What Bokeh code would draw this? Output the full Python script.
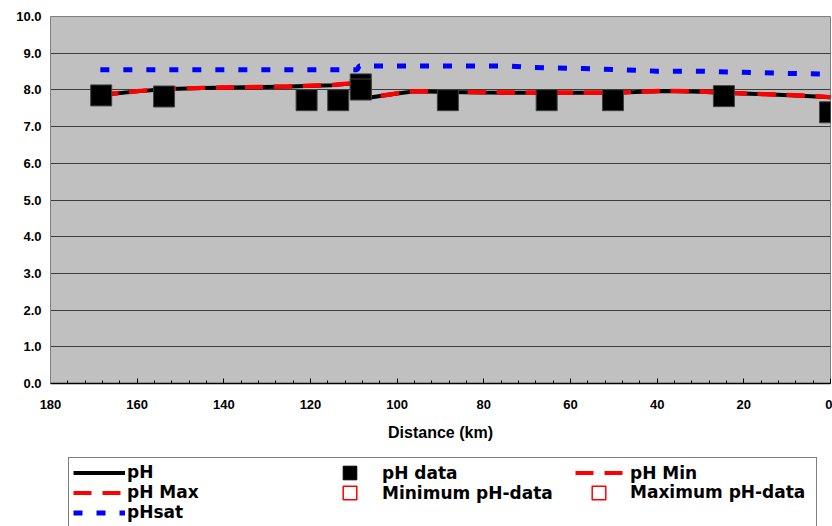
from bokeh.plotting import figure
from bokeh.layouts import column
from bokeh.models import (Legend, LegendItem, SingleIntervalTicker,
                          PrintfTickFormatter, Range1d)
from bokeh.embed import file_html
from bokeh.resources import INLINE

# ---- data ----
dist_model = [168.5, 160, 154, 145, 135, 125, 115, 109, 107, 100, 96, 88, 80,
              70, 65, 60, 50, 45, 38, 30, 25, 15, 8, 0]
ph = [7.86, 7.96, 8.02, 8.05, 8.07, 8.09, 8.13, 8.19, 7.78, 7.90, 7.96, 7.94,
      7.93, 7.92, 7.92, 7.92, 7.92, 7.94, 7.97, 7.95, 7.92, 7.88, 7.85, 7.80]
ph_max = [7.87, 7.97, 8.03, 8.06, 8.08, 8.10, 8.14, 8.20, 7.79, 7.91, 7.97, 7.95,
          7.94, 7.93, 7.93, 7.93, 7.93, 7.95, 7.98, 7.96, 7.93, 7.89, 7.86, 7.81]
ph_min = [7.86, 7.96, 8.02, 8.05, 8.07, 8.09, 8.13, 8.19, 7.78, 7.90, 7.96, 7.94,
          7.93, 7.92, 7.92, 7.92, 7.92, 7.94, 7.97, 7.95, 7.92, 7.88, 7.85, 7.80]

dist_sat = [168.5, 150, 130, 109.2, 108.8, 90, 74, 69, 57, 48, 40, 30, 20, 10, 0]
ph_sat = [8.55, 8.55, 8.55, 8.55, 8.65, 8.65, 8.65, 8.61, 8.58, 8.55, 8.51,
          8.51, 8.48, 8.45, 8.43]

dist_data = [168.3, 153.8, 120.9, 113.6, 108.4, 108.4, 88.3, 65.5, 50.2, 24.6, 0.1]
ph_data = [7.85, 7.82, 7.72, 7.72, 8.15, 8.01, 7.72, 7.72, 7.72, 7.83, 7.39]

min_data_x, min_data_y = [], []
max_data_x, max_data_y = [], []

NAN = [float("nan")]  # hidden proxies that only feed the legend swatches

FONT = "Liberation Sans"
LFONT = "DejaVu Sans"

BLACK = dict(line_color="black", line_width=4)
RED = dict(line_color="red", line_width=4, line_dash="18 11")
BLUE = dict(line_color="blue", line_width=5, line_dash="9 14")

# ---------------- main chart ----------------
p = figure(width=832, height=446, output_backend="svg", toolbar_location=None,
           x_range=Range1d(180, 0), y_range=Range1d(0, 10),
           min_border_left=50, min_border_right=2, min_border_top=16,
           min_border_bottom=63)
p.background_fill_color = "#C0C0C0"
p.border_fill_color = "white"
p.outline_line_color = "#808080"

p.line(dist_model, ph, **BLACK)
p.line(dist_model, ph_max, **RED)
p.line(dist_model, ph_min, **RED)
p.line(dist_sat, ph_sat, **BLUE)
p.scatter(dist_data, ph_data, marker="square", size=21,
          fill_color="black", line_color="#404040")
p.scatter(min_data_x, min_data_y, marker="square", size=12,
          fill_color="white", line_color="red")
p.scatter(max_data_x, max_data_y, marker="square", size=12,
          fill_color="white", line_color="red")

p.xgrid.visible = False
p.ygrid.grid_line_color = "#3c3c3c"
p.ygrid.grid_line_width = 1

ya = p.yaxis[0]
ya.ticker = SingleIntervalTicker(interval=1, num_minor_ticks=0)
ya.formatter = PrintfTickFormatter(format="%.1f")
ya.major_label_text_font = FONT
ya.major_label_text_font_style = "bold"
ya.major_label_text_font_size = "13px"
ya.major_label_text_color = "black"
ya.major_tick_in = 0
ya.major_tick_out = 0
ya.minor_tick_in = 0
ya.minor_tick_out = 0
ya.axis_line_color = "#808080"
ya.major_label_standoff = 9

xa = p.xaxis[0]
xa.ticker = SingleIntervalTicker(interval=20, num_minor_ticks=5)
xa.major_label_text_font = FONT
xa.major_label_text_font_style = "bold"
xa.major_label_text_font_size = "13px"
xa.major_label_text_color = "black"
xa.major_tick_in = 5
xa.major_tick_out = 0
xa.minor_tick_in = 3
xa.minor_tick_out = 0
xa.major_tick_line_color = "black"
xa.minor_tick_line_color = "black"
xa.axis_line_color = "black"
xa.axis_line_width = 1.5
xa.major_label_standoff = 16
xa.axis_label = "Distance (km)"
xa.axis_label_text_font = FONT
xa.axis_label_text_font_style = "bold"
xa.axis_label_text_font_size = "16px"
xa.axis_label_text_color = "black"
xa.axis_label_standoff = 12

# ---------------- legend strip ----------------
lf = figure(width=832, height=80, output_backend="svg", toolbar_location=None,
            x_axis_location=None, y_axis_location=None,
            x_range=Range1d(0, 1), y_range=Range1d(0, 1),
            min_border_left=0, min_border_right=0, min_border_top=0,
            min_border_bottom=0)
lf.outline_line_color = None
lf.background_fill_color = "white"
lf.border_fill_color = "white"
lf.grid.visible = False

g_ph = lf.line(NAN, NAN, **BLACK)
g_max = lf.line(NAN, NAN, **RED)
g_min = lf.line(NAN, NAN, **RED)
g_sat = lf.line(NAN, NAN, **BLUE)
g_data = lf.rect(NAN, NAN, width=1, height=1, fill_color="black", line_color="black")
g_mind = lf.rect(NAN, NAN, width=1, height=1, fill_color="white", line_color="red",
                 line_width=1.5)
g_maxd = lf.rect(NAN, NAN, width=1, height=1, fill_color="white", line_color="red",
                 line_width=1.5)


def make_legend(items, loc, gw, gh, standoff, padding=0, label_width=20, box=False):
    lg = Legend(items=items, location=loc, orientation="vertical")
    lg.glyph_width = gw
    lg.glyph_height = gh
    lg.spacing = 0
    lg.margin = 0
    lg.label_standoff = standoff
    lg.label_text_font = LFONT
    lg.label_text_font_style = "bold"
    lg.label_text_font_size = "17px"
    lg.label_text_color = "black"
    lg.padding = padding
    lg.label_width = label_width
    if box:
        lg.border_line_color = "black"
        lg.border_line_width = 1
        lg.background_fill_color = "white"
        lg.background_fill_alpha = 1
    else:
        lg.border_line_color = None
        lg.background_fill_alpha = 0
    return lg


# legend frame is aligned with the chart frame (left edge at x=50)
L1 = make_legend([LegendItem(label="pH", renderers=[g_ph]),
                  LegendItem(label="pH Max", renderers=[g_max]),
                  LegendItem(label="pHsat", renderers=[g_sat])],
                 (18, -1), 52, 19, 2, padding=4, label_width=685, box=True)
L2 = make_legend([LegendItem(label="pH data", renderers=[g_data]),
                  LegendItem(label="Minimum pH-data", renderers=[g_mind])],
                 (291, 23.3), 17, 17, 24)
L3 = make_legend([LegendItem(label="pH Min", renderers=[g_min])],
                 (525, 43.1), 48, 19, 7)
L4 = make_legend([LegendItem(label="Maximum pH-data", renderers=[g_maxd])],
                 (540, 23.6), 17, 17, 23)
for lg in (L1, L2, L3, L4):
    lf.add_layout(lg, "center")

layout = column(p, lf, spacing=0)
open("out.html", "w").write(file_html(layout, INLINE))
